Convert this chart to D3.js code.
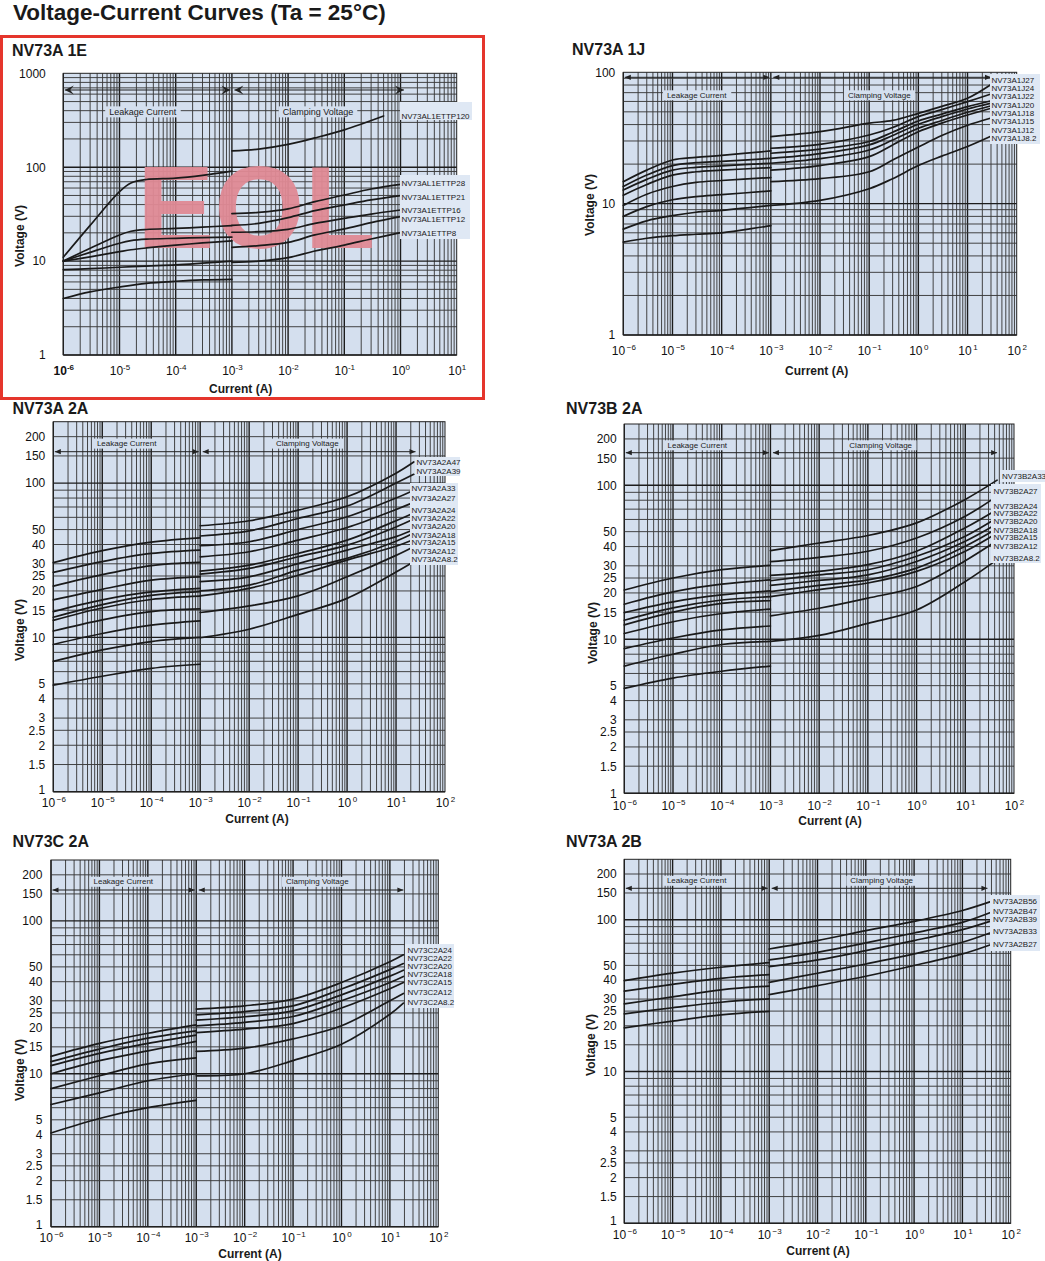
<!DOCTYPE html>
<html><head><meta charset="utf-8">
<script src="https://cdn.jsdelivr.net/npm/d3@7"></script>
<style>body{margin:0;background:#fff} svg{display:block}</style>
</head><body><svg id="c" width="1045" height="1261"></svg>
<script>
const FONT = '"Liberation Sans", Arial, Helvetica, sans-serif';
const TITLE = "Voltage-Current Curves (Ta = 25°C)";
const LEAK_TEXT = "Leakage Current", CLAMP_TEXT = "Clamping Voltage";

// ---------- shared tick labels ----------
const xTicks7 = [1e-6,1e-5,1e-4,1e-3,1e-2,1e-1,1,10];
const xTicks8 = [1e-6,1e-5,1e-4,1e-3,1e-2,1e-1,1,10,100];
const yTicks1E = [1,10,100,1000];
const yTicks1J = [1,10,100];
const yTicksFine = [1,1.5,2,2.5,3,4,5,10,15,20,25,30,40,50,100,150,200];

// ---------- NV73A 1E  (pairs: [current A, voltage V]) ----------
const e1Names = ["NV73AL1ETTP120","NV73AL1ETTP28","NV73AL1ETTP21","NV73A1ETTP16","NV73AL1ETTP12","NV73A1ETTP8"];
const e1Leak = [
  [[1e-6,11],[3e-6,24],[1e-5,55],[1.6e-5,68],[3e-5,74],[1e-4,76.5],[3e-4,82],[1e-3,91]],
  [[1e-6,10],[3e-6,13.7],[1e-5,19],[1.6e-5,20.8],[3e-5,21.7],[1e-4,22.3],[3e-4,23],[1e-3,23.9]],
  [[1e-6,10],[3e-6,12.4],[1e-5,15.5],[1.6e-5,16.5],[3e-5,17.1],[1e-4,17.5],[3e-4,17.8],[1e-3,18]],
  [[1e-6,10],[3e-6,11.1],[1e-5,12.6],[1.6e-5,13.2],[3e-5,13.8],[1e-4,14.8],[3e-4,15.6],[1e-3,16.4]],
  [[1e-6,8.1],[3e-6,8.3],[1e-5,8.6],[3e-5,8.85],[1e-4,9.1],[3e-4,9.5],[1e-3,10]],
  [[1e-6,4.0],[3e-6,4.7],[1e-5,5.3],[3e-5,5.8],[1e-4,6.1],[3e-4,6.3],[1e-3,6.4]]
];
const e1Clamp = [
  [[1e-3,149],[3e-3,156],[1e-2,175],[3e-2,205],[1e-1,250],[0.5,351]],
  [[1e-3,32],[3e-3,33],[1e-2,36],[3e-2,43],[1e-1,50.6],[3e-1,58.6],[1,65.7]],
  [[1e-3,24],[3e-3,25.2],[1e-2,29],[3e-2,34.5],[1e-1,39.6],[3e-1,44.8],[1,49.8]],
  [[1e-3,20.3],[3e-3,20.6],[1e-2,21.8],[3e-2,25.2],[1e-1,28.5],[3e-1,31.7],[1,35]],
  [[1e-3,14],[3e-3,14.6],[1e-2,15.8],[3e-2,19],[1e-1,22],[3e-1,25.7],[1,29.7]],
  [[1e-3,9.7],[3e-3,10],[1e-2,10.9],[3e-2,12.8],[1e-1,14.8],[3e-1,17.2],[1,20.1]]
];

// ---------- NV73A 1J ----------
const j1Names = ["NV73A1J27","NV73A1J24","NV73A1J22","NV73A1J20","NV73A1J18","NV73A1J15","NV73A1J12","NV73A1J8.2"];
const j1LeakI = [1e-6,3e-6,1e-5,3e-5,1e-4,1e-3];
const j1LeakV = [
  [14.7,18,21.5,22.5,23.3,25.2],
  [13.5,16.5,19.5,20.5,21,22.1],
  [12.7,15.3,18,18.9,19.4,20.3],
  [11.6,14,16.5,17.5,18,18.8],
  [9.7,11.8,13.5,14.5,15,15.8],
  [8.0,9.5,10.7,11.3,11.7,12.5],
  [6.4,7.4,8.1,8.6,8.9,9.7],
  [5.1,5.45,5.7,5.85,6.0,6.8]
];
const j1ClampI = [1e-3,1e-2,1e-1,3e-1,1,3,10,29];
const j1ClampV = [
  [32.4,35.3,41,43,48.7,55,63.4,80],
  [26.4,28.3,33.3,38,46,52,59.8,68],
  [24.2,26,29.7,35,42.6,48,54.8,60.5],
  [22.1,24,28,33,40.2,46,52.6,58],
  [20.3,22,25.6,30.5,37.5,43,49.6,55.4],
  [18,19.5,22.8,28,35.3,41,47.3,53],
  [14.7,15.5,17.5,21.5,27,33,39.5,44.7],
  [9.7,10.6,13,15.5,19.5,23,27.2,32.4]
];

// ---------- NV73A 2A ----------
const a2Names = ["NV73A2A47","NV73A2A39","NV73A2A33","NV73A2A27","NV73A2A24","NV73A2A22","NV73A2A20","NV73A2A18","NV73A2A15","NV73A2A12","NV73A2A8.2"];
const a2LeakI = [1e-6,1e-5,1e-4,1e-3];
const a2LeakV = [
  [30.5,36.5,41.5,44.2],[26.4,31,35,36.8],[21.5,25.5,29.2,30.6],[17.5,20.5,23.5,24.7],
  [14.7,17.5,19.7,20.8],[13.5,16.3,18.7,19.8],[12.9,15.5,17.6,18.5],[11.0,13,14.7,15.3],
  [9.0,10.6,12.0,12.8],[7.0,8.3,9.4,10],[4.9,5.6,6.3,6.7]
];
const a2ClampI = [1e-3,1e-2,1e-1,1,10,23];
const a2ClampV = [
  [52.9,57,66.8,81.5,116,137],[45.4,49,59,71,100,114],[39.3,41.7,50,60.5,80,90],
  [33.3,35.9,42.7,51.6,67.5,75],[26.9,29.4,35,42.7,57,64],[25.7,28,33.3,39.6,52,58.5],
  [23,24.7,30.1,36.8,45,50],[20,21.8,27.3,32.5,42,47.5],[18.6,20.8,25.3,31.7,39,43.1],
  [14.5,16,18.6,24.7,34,38.7],[9.95,11.3,14.1,17.9,26.5,30.9]
];

// ---------- NV73B 2A ----------
const b2Names = ["NV73B2A33","NV73B2A27","NV73B2A24","NV73B2A22","NV73B2A20","NV73B2A18","NV73B2A15","NV73B2A12","NV73B2A8.2"];
const b2LeakI = [1e-6,1e-5,1e-4,1e-3];
const b2LeakV = [
  [20.9,25,28.3,30.2],[16.9,20.3,22.8,24.3],[14.9,17.5,19.4,20.6],[13.3,16,18,18.9],
  [12.4,15,17.1,17.8],[10.9,13,14.7,15.7],[8.7,10.2,11.5,12.2],[6.7,8.0,9.25,9.7],[4.8,5.6,6.2,6.7]
];
const b2ClampI = [1e-3,1e-2,1e-1,1,10,45];
const b2ClampV = [
  [37.6,42.2,47.2,57,81,108],[31.9,34,37.3,45.5,63,85],[26,27.6,30.5,37.3,53,69.7],
  [24,26.2,28.3,34.6,46.7,61.5],[22.4,24.1,26.2,32,43.3,56.2],[20.4,22.4,24.3,29,40.2,52.4],
  [18.9,21,23.2,27.6,37.3,49],[14.2,15.9,18.5,22,32.4,43.8],[9.7,10.6,12.7,15.5,23.7,32.9]
];

// ---------- NV73C 2A ----------
const c2Names = ["NV73C2A24","NV73C2A22","NV73C2A20","NV73C2A18","NV73C2A15","NV73C2A12","NV73C2A8.2"];
const c2LeakI = [1e-6,1e-5,1e-4,1e-3];
const c2LeakV = [
  [13,15.8,18.4,20.9],[12,14.5,17.1,19.1],[11.3,13.6,15.8,17.9],[10,12.2,14.1,16.3],
  [8.0,9.7,11.6,12.7],[6.3,7.5,9.0,10],[4.1,5.1,6.0,6.7]
];
const c2ClampI = [1e-3,1e-2,1e-1,1,10,19];
const c2ClampV = [
  [26.5,27.8,30.8,39.5,54,60],[24.3,25.5,27.8,35.8,48,52.6],[22.4,23.6,25.8,32.8,43.5,47.6],
  [20.6,21.7,23.7,30,39.5,43.3],[18.6,19.6,21.3,26.9,36,39.5],[14,14.7,16.9,20.6,30,33.5],
  [9.7,10,12.2,15.6,24.5,29]
];

// ---------- NV73A 2B ----------
const b2bNames = ["NV73A2B56","NV73A2B47","NV73A2B39","NV73A2B33","NV73A2B27"];
const b2bLeakI = [1e-6,1e-5,1e-4,1e-3];
const b2bLeakV = [
  [39.7,44.5,48.6,52.1],[33.8,37.5,41.1,43.5],[27.9,31,34.5,36.5],[24,26.3,28.6,30.1],[19.4,21.5,23.6,24.9]
];
const b2bClampI = [1e-3,1e-2,1e-1,1,10,37];
const b2bClampV = [
  [64.1,72.8,84.7,97.5,115,131],[54.3,61,70.3,81.7,96,111],[49.1,54.3,62.5,72.8,86,97.5],
  [38.7,44.4,51.1,59.5,71,81.7],[32.1,36.8,42.4,49.9,59.5,68.2]
];

const zipCurves = (I, Vs) => Vs.map(v => d3.zip(I, v));

// ---------- layout (pixels) ----------
const BG = "#d4dfee", BOXBG = "#dfe8f4";
const layouts = [
  {title:"NV73A 1E", tx:12, ty:56, x0:63.3, x1:456.7, y0:73.3, y1:355, xmax:10, ymax:1000, fine:false,
   xticks:xTicks7, yticks:yTicks1E, ypad:17.5, xpad:11, minus:"-", big:true,
   arrowY:16.7, arrowEnd:1.15, textY:38.4, leakX:142.7, clampX:318, tfs:9,
   ylabX:20, ylabY:236, xlabX:240.7, xlabY:393,
   boxes:[[400,102,72,18],[400,175,70,64]], lx:[401.5,401.5,401.5,401.5,401.5,401.5],
   ly:[119,186,200,213,222,236],
   leak:e1Leak, clamp:e1Clamp, names:e1Names},
  {title:"NV73A 1J", tx:572, ty:55, x0:623.3, x1:1016.7, y0:72.3, y1:335, xmax:100, ymax:100, fine:false,
   xticks:xTicks8, yticks:yTicks1J, ypad:8, xpad:11.5, minus:"\u2212",
   arrowY:5, arrowEnd:30, textY:22.7, leakX:696.7, clampX:879.3, tfs:8,
   ylabX:590, ylabY:205, xlabX:816.7, xlabY:375,
   boxes:[[990,74,50,70]], lx:Array(8).fill(991.5),
   ly:[82.5,91,99,107.5,115.5,124,132.5,141],
   leak:zipCurves(j1LeakI,j1LeakV), clamp:zipCurves(j1ClampI,j1ClampV), names:j1Names},
  {title:"NV73A 2A", tx:12.5, ty:413.5, x0:53.3, x1:445, y0:421.7, y1:791.7, xmax:100, ymax:250, fine:true,
   xticks:xTicks8, yticks:yTicksFine, ypad:8, xpad:6.5, minus:"\u2212", liftOne:true,
   arrowY:30, arrowEnd:25, textY:21.6, leakX:126.7, clampX:307.3, tfs:8,
   ylabX:20, ylabY:630, xlabX:257, xlabY:823,
   boxes:[[415,457,45,19],[410,483,48,82]], lx:[416.5,416.5,411.5,411.5,411.5,411.5,411.5,411.5,411.5,411.5,411.5],
   ly:[464.5,473.5,491,501,512.5,521,529,537.5,545,554,562],
   leak:zipCurves(a2LeakI,a2LeakV), clamp:zipCurves(a2ClampI,a2ClampV), names:a2Names},
  {title:"NV73B 2A", tx:566, ty:414, x0:624.3, x1:1014, y0:424, y1:793.3, xmax:100, ymax:250, fine:true,
   xticks:xTicks8, yticks:yTicksFine, ypad:7.6, xpad:8, minus:"\u2212",
   arrowY:28.7, arrowEnd:45, textY:21, leakX:697.3, clampX:880.7, tfs:8,
   ylabX:593, ylabY:633, xlabX:830, xlabY:825,
   boxes:[[1000,470,45,12],[991,484,50,79]], lx:[1002,993.5,993.5,993.5,993.5,993.5,993.5,993.5,993.5],
   ly:[479,493.5,508.5,516,524,532.5,540,549,561],
   leak:zipCurves(b2LeakI,b2LeakV), clamp:zipCurves(b2ClampI,b2ClampV), names:b2Names},
  {title:"NV73C 2A", tx:12.5, ty:847, x0:51, x1:438.3, y0:860, y1:1226.7, xmax:100, ymax:250, fine:true,
   xticks:xTicks8, yticks:yTicksFine, ypad:8.7, xpad:7, minus:"\u2212", liftOne:true,
   arrowY:30, arrowEnd:19, textY:21.5, leakX:123.3, clampX:317.3, tfs:8,
   ylabX:20, ylabY:1070, xlabX:250, xlabY:1258,
   boxes:[[405,944,49,64]], lx:Array(7).fill(407.5),
   ly:[953,961,969,977,985,995,1005],
   leak:zipCurves(c2LeakI,c2LeakV), clamp:zipCurves(c2ClampI,c2ClampV), names:c2Names},
  {title:"NV73A 2B", tx:566, ty:847, x0:624.3, x1:1010.7, y0:859.3, y1:1223.3, xmax:100, ymax:250, fine:true,
   xticks:xTicks8, yticks:yTicksFine, ypad:7.6, xpad:7.2, minus:"\u2212", liftOne:true,
   arrowY:29, arrowEnd:33, textY:21.2, leakX:696.7, clampX:881.7, tfs:8,
   ylabX:590.7, ylabY:1045, xlabX:818, xlabY:1255,
   boxes:[[990,895,50,56]], lx:Array(5).fill(993),
   ly:[904,913.5,922,933.5,947],
   leak:zipCurves(b2bLeakI,b2bLeakV), clamp:zipCurves(b2bClampI,b2bClampV), names:b2bNames}
];

const svg = d3.select("#c").attr("font-family", FONT);

svg.append("text").attr("x",13).attr("y",20).attr("font-size",22.5).attr("font-weight","bold")
  .attr("fill","#1a1a1a").text(TITLE);

function arrowHead(g, xTip, yy, dir, big) {
  const len = big ? 9 : 6, h = big ? 4.5 : 2.6;
  const b = xTip + dir*len;
  const pts = big ? [[xTip,yy],[b,yy-h],[xTip+dir*len*0.6,yy],[b,yy+h]] : [[xTip,yy],[b,yy-h],[b,yy+h]];
  g.append("path").attr("d","M"+pts.map(p=>p.join(",")).join("L")+"Z").attr("fill","#222");
}

function drawPanel(c, idx) {
  const g = svg.append("g");
  const x = d3.scaleLog().domain([1e-6, c.xmax]).range([c.x0, c.x1]);
  const y = d3.scaleLog().domain([1, c.ymax]).range([c.y1, c.y0]);
  g.append("rect").attr("x",c.x0).attr("y",c.y0).attr("width",c.x1-c.x0).attr("height",c.y1-c.y0).attr("fill",BG);

  const isMajor = v => Math.abs(Math.log10(v) - Math.round(Math.log10(v))) < 1e-9;
  const xs = [];
  for (let d=-6; d<Math.round(Math.log10(c.xmax)); d++) for (let k=1;k<=9;k++) xs.push(k*Math.pow(10,d));
  const ks = c.fine ? [1,1.5,2,2.5,3,4,5,6,7,8,9] : [1,2,3,4,5,6,7,8,9];
  const ys = [];
  for (let d=0; Math.pow(10,d) < c.ymax; d++) ks.forEach(k => { const v=k*Math.pow(10,d); if (v < c.ymax*0.999) ys.push(v); });
  const grid = g.append("g");
  const gc = d => isMajor(d) ? "#1c1c1c" : "#3a3a3a";
  const gw = d => isMajor(d) ? 1.4 : 0.95;
  grid.selectAll(".vx").data(xs).join("line")
    .attr("x1",d=>x(d)).attr("x2",d=>x(d)).attr("y1",c.y0).attr("y2",c.y1)
    .attr("stroke",gc).attr("stroke-width",gw);
  grid.selectAll(".hy").data(ys).join("line")
    .attr("y1",d=>y(d)).attr("y2",d=>y(d)).attr("x1",c.x0).attr("x2",c.x1)
    .attr("stroke",gc).attr("stroke-width",gw);

  if (idx === 0) {
    g.append("text").attr("x",137).attr("y",248.3).attr("font-size",116).attr("font-weight","bold")
      .attr("fill","#e08a95").attr("opacity",0.95).text("EOL");
  }

  g.append("rect").attr("x",c.x0).attr("y",c.y0).attr("width",c.x1-c.x0).attr("height",c.y1-c.y0)
    .attr("fill","none").attr("stroke","#222").attr("stroke-width",1);

  // region texts
  [[LEAK_TEXT,c.leakX],[CLAMP_TEXT,c.clampX]].forEach(([t,cx]) => {
    const tt = g.append("text").attr("x",cx).attr("y",c.y0+c.textY).attr("dy","0.35em")
      .attr("text-anchor","middle").attr("font-size",c.tfs).attr("fill","#222").text(t);
    const bb = tt.node().getBBox();
    g.insert("rect", () => tt.node()).attr("x",bb.x-4).attr("y",bb.y-0.5).attr("width",bb.width+8).attr("height",bb.height+1).attr("fill",BG);
  });

  // arrows
  const ay = c.y0 + c.arrowY;
  const a1 = x(1e-6)+1.5, a2 = x(1e-3)-1.5, a3 = x(1e-3)+2.5, a4 = x(c.arrowEnd);
  g.append("line").attr("x1",a1).attr("x2",a2).attr("y1",ay).attr("y2",ay).attr("stroke","#222").attr("stroke-width",1);
  g.append("line").attr("x1",a3).attr("x2",a4).attr("y1",ay).attr("y2",ay).attr("stroke","#222").attr("stroke-width",1);
  arrowHead(g,a1,ay,1,c.big); arrowHead(g,a2,ay,-1,c.big); arrowHead(g,a3,ay,1,c.big); arrowHead(g,a4,ay,-1,c.big);

  // curves
  const line = d3.line().x(d=>x(d[0])).y(d=>y(d[1])).curve(d3.curveCatmullRom.alpha(0.5));
  g.append("g").selectAll("path").data(c.leak.concat(c.clamp)).join("path")
    .attr("d",line).attr("fill","none").attr("stroke","#1a1a1a").attr("stroke-width",1.7)
    .attr("stroke-linejoin","round").attr("stroke-linecap","round");

  // label boxes and labels
  c.boxes.forEach(b => g.append("rect").attr("x",b[0]).attr("y",b[1]).attr("width",b[2]).attr("height",b[3]).attr("fill",BOXBG));
  g.append("g").selectAll("text").data(c.names).join("text")
    .attr("x",(d,i)=>c.lx[i]).attr("y",(d,i)=>c.ly[i]).attr("font-size",8).attr("fill","#1a1a1a").text(d=>d);

  // axes
  const ya = d3.axisLeft(y).tickValues(c.yticks).tickFormat(d=>String(d)).tickSize(0).tickPadding(c.ypad);
  g.append("g").attr("transform",`translate(${c.x0},0)`).call(ya)
    .attr("font-family",FONT).attr("font-size",12)
    .call(s=>s.select(".domain").remove())
    .call(s=>s.selectAll("text").attr("fill","#111")
      .attr("dy", d => (c.liftOne && d===1) ? "0.12em" : "0.32em"));
  const xa = d3.axisBottom(x).tickValues(c.xticks).tickSize(0).tickPadding(c.xpad).tickFormat(()=> "");
  const xg = g.append("g").attr("transform",`translate(0,${c.y1})`).call(xa)
    .attr("font-family",FONT).attr("font-size",12);
  xg.select(".domain").remove();
  xg.selectAll(".tick text").attr("fill","#111").each(function(d,i){
    const t = d3.select(this);
    const e = Math.round(Math.log10(d));
    if (c.big && i===0) t.attr("font-weight","bold");
    t.append("tspan").text("10");
    t.append("tspan").attr("dy",-5).attr("font-size",8).text((c.big?"":"\u2009") + (e<0 ? c.minus + Math.abs(e) : String(e)));
  });

  // titles
  g.append("text").attr("x",c.tx).attr("y",c.ty).attr("font-size",16).attr("font-weight","bold").attr("fill","#1a1a1a").text(c.title);
  g.append("text").attr("transform",`translate(${c.ylabX},${c.ylabY}) rotate(-90)`).attr("text-anchor","middle")
    .attr("dy","0.35em").attr("font-size",12).attr("font-weight","bold").attr("fill","#1a1a1a").text("Voltage (V)");
  g.append("text").attr("x",c.xlabX).attr("y",c.xlabY).attr("text-anchor","middle")
    .attr("font-size",12).attr("font-weight","bold").attr("fill","#1a1a1a").text("Current (A)");
}

layouts.forEach((c,i)=>drawPanel(c,i));

// red EOL frame around first panel
svg.append("rect").attr("x",1.5).attr("y",36.5).attr("width",482).attr("height",362)
  .attr("fill","none").attr("stroke","#e5352c").attr("stroke-width",3);
</script></body></html>
